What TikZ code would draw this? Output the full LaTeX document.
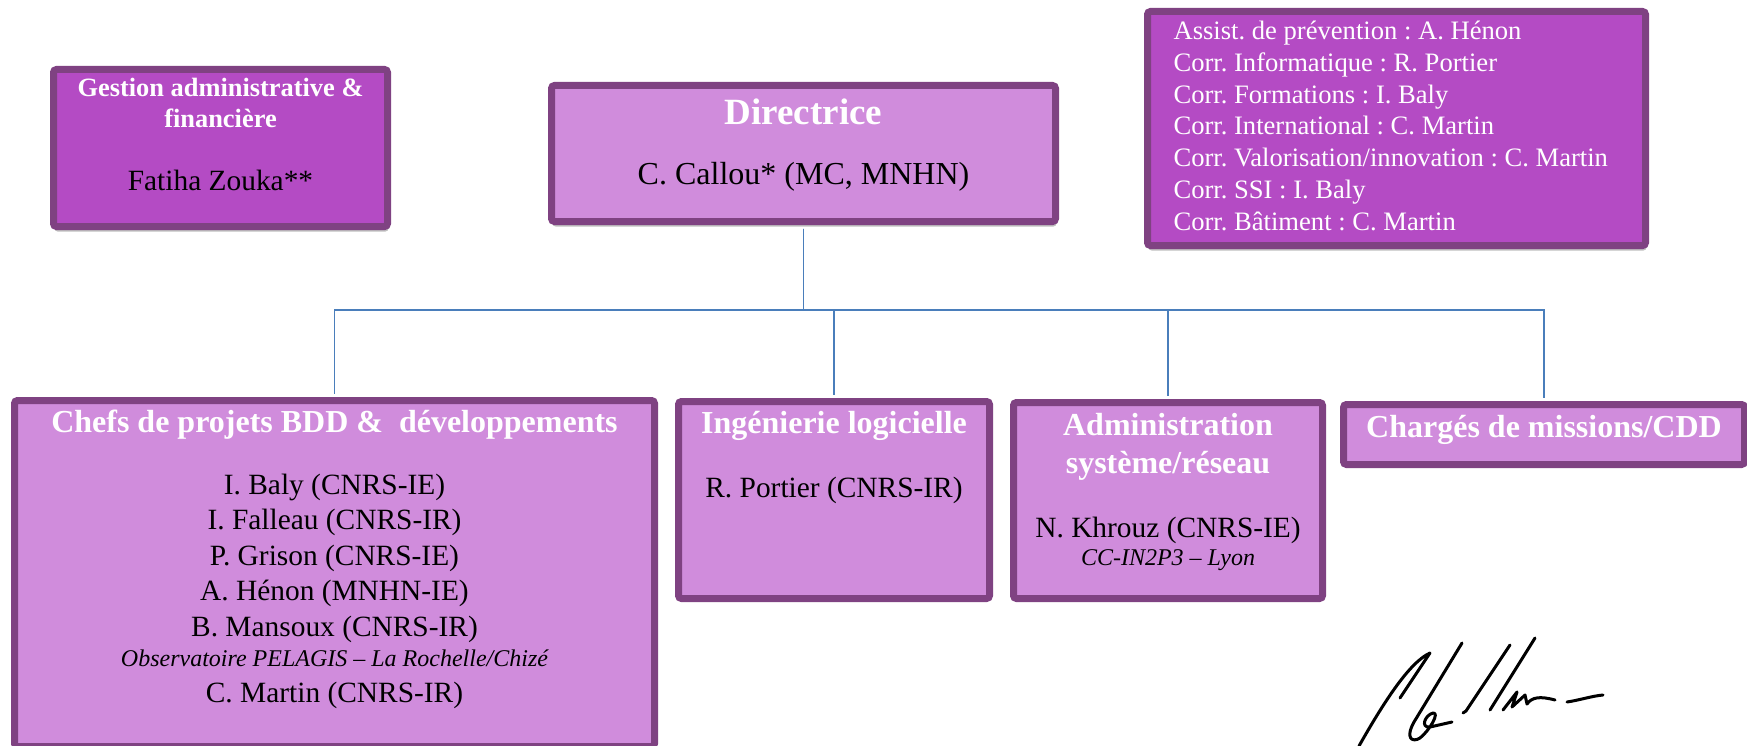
\documentclass[tikz,border=0pt]{standalone}
\usepackage{fontspec}
\setmainfont{Liberation Serif}
\usepackage{xcolor,tikz}
\usetikzlibrary{positioning,shadows}
\frenchspacing
\definecolor{cadre}{RGB}{127,66,130}
\definecolor{violetfonce}{RGB}{180,75,196}
\definecolor{mauveclair}{RGB}{208,140,220}
\definecolor{bleulien}{RGB}{74,126,187}
\tikzset{
  boite/.style={draw=cadre, line width=7pt, rounded corners=3pt, inner sep=0pt},
  fonce/.style={boite, fill=violetfonce},
  clair/.style={boite, fill=mauveclair},
  ombre/.style={drop shadow={shadow xshift=1pt, shadow yshift=-5pt, fill=black, opacity=.25}},
  titre/.style={anchor=base, align=center, text=white, font=\bfseries\fontsize{32}{38}\selectfont},
  nom/.style={anchor=base, align=center, font=\fontsize{29.4}{35.5}\selectfont},
  lien/.style={draw=bleulien, line width=1.8pt, shorten <=3.5pt, shorten >=3.5pt},
  signe/.style={line width=3pt, line cap=round, line join=round}
}

\begin{document}
\begin{tikzpicture}[x=1pt, y=-1pt]
\useasboundingbox (0,0) rectangle (1747,746);

% boites du haut
\node[fonce, ombre, minimum width=334pt, minimum height=157pt] (gestion) at (220.5,148) {};
\node[clair, ombre, minimum width=504pt, minimum height=136pt] (directrice) at (803.5,153.5) {};
\node[fonce, ombre, minimum width=498pt, minimum height=234pt] (corr) at (1396.5,128.5) {};

% equipes
\node[clair, minimum width=640pt, minimum height=346pt] (chefs) at (334.5,573.5) {};
\node[clair, minimum width=311pt, minimum height=197pt] (ingenierie) at (834,500) {};
\node[clair, minimum width=309pt, minimum height=196pt] (admin) at (1168,500.5) {};
\node[clair, minimum width=401pt, minimum height=60pt] (charges) at (1544,434.5) {};

\coordinate (bus) at (803.5,310);
\foreach \fils in {chefs,ingenierie,admin,charges}
  \draw[lien] (directrice.south) -- (bus) -| (\fils.north);

% textes (ancre base = derniere ligne)
\node[titre, font=\bfseries\fontsize{26.4}{31}\selectfont] (gestiontitre) at (220.5,128) {Gestion administrative \&\\financière};
\node[nom] (gestionnom) at (220.5,190) {Fatiha Zouka**};

\node[titre, font=\bfseries\fontsize{37}{44}\selectfont] (dirtitre) at (803.5,125) {Directrice};
\node[nom, font=\fontsize{32}{38}\selectfont] (dirnom) at (803.5,185) {C. Callou* (MC, MNHN)};

\node[anchor=base west, align=left, text=white, font=\fontsize{26.6}{31.7}\selectfont] (corrtexte) at (1170,230)
  {Assist. de prévention : A. Hénon\\
   Corr. Informatique : R. Portier\\
   Corr. Formations : I. Baly\\
   Corr. International : C. Martin\\
   Corr. Valorisation/innovation : C. Martin\\
   Corr. SSI : I. Baly\\
   Corr. Bâtiment : C. Martin};

\node[titre] (chefstitre) at (334.5,432) {Chefs de projets BDD \& \ développements};
\node[nom] (chefsnoms) at (334.5,702)
  {I. Baly (CNRS-IE)\\
   I. Falleau (CNRS-IR)\\
   P. Grison (CNRS-IE)\\
   A. Hénon (MNHN-IE)\\
   B. Mansoux (CNRS-IR)\\[-5pt]
   {\itshape\fontsize{24}{29}\selectfont Observatoire PELAGIS – La Rochelle/Chizé}\\
   C. Martin (CNRS-IR)};

\node[titre] (ingtitre) at (834,433) {Ingénierie logicielle};
\node[nom] (ingnom) at (834,497) {R. Portier (CNRS-IR)};

\node[titre] (admintitre) at (1168,473) {Administration\\système/réseau};
\node[nom] (adminnom) at (1168,537) {N. Khrouz (CNRS-IE)};
\node[anchor=base, font=\itshape\fontsize{24}{29}\selectfont] (adminlieu) at (1168,565) {CC-IN2P3 – Lyon};

\node[titre] (chargestitre) at (1544,437) {Chargés de missions/CDD};

% signature
\draw[signe] (1359,746) .. controls (1385,700) and (1410,662) .. (1430,653) -- (1400,698);
\draw[signe] (1462,643) -- (1414,722) .. controls (1405,738) and (1412,743) .. (1420,738)
  .. controls (1430,730) and (1440,712) .. (1433,713) .. controls (1425,715) and (1420,728) .. (1430,727) -- (1452,722);
\draw[signe] (1510,645) -- (1466,711) -- (1463,713);
\draw[signe] (1535,638) -- (1490,710);
\draw[signe] (1503,710) -- (1517,692) -- (1512,707) -- (1525,695) -- (1527,704)
  .. controls (1532,697) and (1540,696) .. (1555,700);
\draw[signe] (1567,702) .. controls (1580,700) and (1592,696) .. (1603,695);
\end{tikzpicture}
\end{document}
